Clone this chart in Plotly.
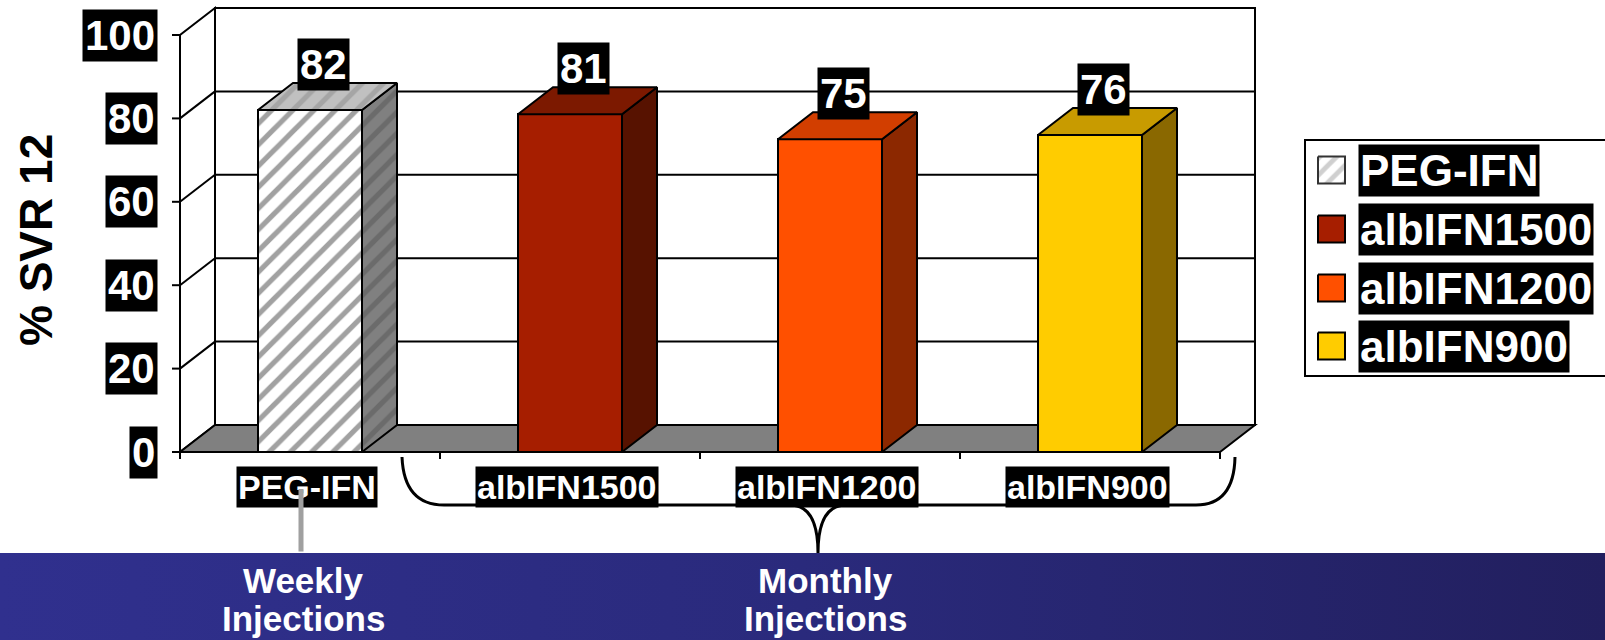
import plotly.graph_objects as go

# ---------------- data ----------------
categories = ["PEG-IFN", "albIFN1500", "albIFN1200", "albIFN900"]
svr12 = [82, 81, 75, 76]
y_ticks = [0, 20, 40, 60, 80, 100]
y_title = "% SVR 12"
weekly_text = ["Weekly", "Injections"]
monthly_text = ["Monthly", "Injections"]

front_colors = ["#FFFFFF", "#A61E00", "#FF5000", "#FFCC00"]
top_colors = ["#C0C0C0", "#7C1900", "#D23E00", "#C89B00"]
side_colors = ["#808080", "#571200", "#8C2800", "#8A6800"]

# ---------------- geometry (pixels) ----------------
W, H = 1605, 640
FONT = "Liberation Sans, Arial, sans-serif"
X_EDGE = 180      # pixel column of the front-left corner
CAT = 260         # pixels per category slot
Y_BASE = 452      # pixel row of value 0 on the front plane
UNIT = 4.17       # pixels per percentage point
DEPTH_X, DEPTH_Y = 35, 27
BAR_W = 0.4
LW = 2

DX = DEPTH_X / CAT
DY = DEPTH_Y / UNIT
x_lo = -0.5 - X_EDGE / CAT
x_hi = x_lo + W / CAT
y_lo = -(H - Y_BASE) / UNIT
y_hi = Y_BASE / UNIT
n = len(categories)
left, right = -0.5, n - 0.5
vmax = y_ticks[-1]

fig = go.Figure()
shapes = []
annotations = []


def poly(pts):
    return "M " + " L ".join(f"{x},{y}" for x, y in pts) + " Z"


# ---- walls and floor ----
shapes.append(dict(type="path", xref="x", yref="y", layer="below",
                   path=poly([(left, 0), (left + DX, DY), (left + DX, vmax + DY), (left, vmax)]),
                   fillcolor="white", line=dict(color="black", width=LW)))
shapes.append(dict(type="rect", xref="x", yref="y", layer="below",
                   x0=left + DX, y0=DY, x1=right + DX, y1=vmax + DY,
                   fillcolor="white", line=dict(color="black", width=LW)))
for v in y_ticks[1:-1]:
    shapes.append(dict(type="line", xref="x", yref="y", layer="below",
                       x0=left + DX, y0=v + DY, x1=right + DX, y1=v + DY,
                       line=dict(color="black", width=LW)))
    shapes.append(dict(type="line", xref="x", yref="y", layer="below",
                       x0=left, y0=v, x1=left + DX, y1=v + DY,
                       line=dict(color="black", width=LW)))
shapes.append(dict(type="path", xref="x", yref="y", layer="below",
                   path=poly([(left, 0), (right, 0), (right + DX, DY), (left + DX, DY)]),
                   fillcolor="#808080", line=dict(color="black", width=LW)))

# ---- front axes ----
tick_len_x = 8 / CAT
tick_len_y = 7 / UNIT
shapes.append(dict(type="line", xref="x", yref="y", x0=left, y0=0, x1=left, y1=vmax,
                   line=dict(color="black", width=LW)))
for v in y_ticks:
    shapes.append(dict(type="line", xref="x", yref="y", x0=left - tick_len_x, y0=v, x1=left, y1=v,
                       line=dict(color="black", width=LW)))
shapes.append(dict(type="line", xref="x", yref="y", x0=left - tick_len_x, y0=0, x1=right, y1=0,
                   line=dict(color="black", width=LW)))
for k in range(n + 1):
    shapes.append(dict(type="line", xref="x", yref="y", x0=left + k, y0=0, x1=left + k, y1=-tick_len_y,
                       line=dict(color="black", width=LW)))

# ---- bar front faces ----
fig.add_trace(go.Bar(
    x=list(range(n)), y=svr12, width=BAR_W,
    marker=dict(color=front_colors, line=dict(color="black", width=LW),
                pattern=dict(shape=["/", "", "", ""], fgcolor="#A0A0A0", size=15, solidity=0.35)),
    hoverinfo="skip", showlegend=False,
))

# ---- bar tops and sides ----
for i, v in enumerate(svr12):
    x0, x1 = i - BAR_W / 2, i + BAR_W / 2
    top_pts = [(x0, v), (x1, v), (x1 + DX, v + DY), (x0 + DX, v + DY), (x0, v)]
    side_pts = [(x1, 0), (x1 + DX, DY), (x1 + DX, v + DY), (x1, v), (x1, 0)]
    for pts, col, fg in ((side_pts, side_colors[i], "#555555"), (top_pts, top_colors[i], "#8A8A8A")):
        kw = {}
        if i == 0:
            kw["fillpattern"] = dict(shape="/", fgcolor=fg, bgcolor=col, size=15, solidity=0.35)
        fig.add_trace(go.Scatter(
            x=[p[0] for p in pts], y=[p[1] for p in pts], mode="lines", fill="toself",
            fillcolor=col, line=dict(color="black", width=LW), hoverinfo="skip",
            showlegend=False, **kw))

# ---- blue footer band (pixel overlay axes) ----
BAND_TOP = 553
fig.add_trace(go.Scatter(
    x=[0, W, W, 0, 0], y=[BAND_TOP, BAND_TOP, H, H, BAND_TOP], mode="lines", fill="toself",
    line=dict(width=0), fillgradient=dict(type="horizontal",
                                          colorscale=[[0, "#30308E"], [0.5, "#2A2A7C"], [1, "#221F5E"]]),
    xaxis="x2", yaxis="y2", hoverinfo="skip", showlegend=False))

# ---- legend ----
LEG_X0, LEG_Y0, LEG_Y1 = 1305, 140, 376
ROW_Y = [170, 229, 288, 346]
SW = 27
shapes.append(dict(type="rect", xref="x2", yref="y2", x0=LEG_X0, y0=LEG_Y0, x1=W + 20, y1=LEG_Y1,
                   fillcolor="white", line=dict(color="black", width=LW), layer="below"))
for i, name in enumerate(categories):
    sx0, sx1 = 1318, 1318 + SW
    sy0, sy1 = ROW_Y[i] - SW / 2, ROW_Y[i] + SW / 2
    kw = {}
    if i == 0:
        kw["fillpattern"] = dict(shape="/", fgcolor="#A0A0A0", bgcolor="white", size=12, solidity=0.4)
    fig.add_trace(go.Scatter(
        x=[sx0, sx1, sx1, sx0, sx0], y=[sy0, sy0, sy1, sy1, sy0], mode="lines", fill="toself",
        fillcolor=front_colors[i], line=dict(color="#333333" if i == 0 else "black", width=LW),
        xaxis="x2", yaxis="y2", hoverinfo="skip", showlegend=False, **kw))
    annotations.append(dict(xref="x2", yref="y2", x=1358, y=ROW_Y[i], xanchor="left", yanchor="middle",
                            text=name, showarrow=False, bgcolor="black", borderpad=1,
                            font=dict(family=FONT, size=44, color="white", weight="bold")))

# ---- value labels ----
for i, v in enumerate(svr12):
    annotations.append(dict(xref="x", yref="y", x=i + 0.05, y=v + 11, text=str(v), showarrow=False,
                            xanchor="center", yanchor="middle", bgcolor="black", borderpad=2,
                            font=dict(family=FONT, size=42, color="white", weight="bold")))

# ---- y tick labels and title ----
for v in y_ticks:
    annotations.append(dict(xref="x", yref="y", x=left - 22 / CAT, y=v, text=str(v), showarrow=False,
                            xanchor="right", yanchor="middle", bgcolor="black", borderpad=2,
                            font=dict(family=FONT, size=42, color="white", weight="bold")))
annotations.append(dict(xref="x2", yref="y2", x=36, y=240, text=y_title, showarrow=False,
                        textangle=-90, xanchor="center", yanchor="middle",
                        font=dict(family=FONT, size=46, color="black", weight="bold")))

# ---- grouping brace under the monthly categories ----
shapes.append(dict(type="path", xref="x2", yref="y2", line=dict(color="black", width=3),
                   path=("M 402,457 Q 404,505 444,505 L 790,505 Q 818,505 818,553 "
                         "Q 818,505 846,505 L 1196,505 Q 1234,505 1235,457")))

# ---- category labels ----
for i, name in enumerate(categories):
    annotations.append(dict(xref="x", yref="y2", x=i - 0.01, y=487, text=name, showarrow=False,
                            xanchor="center", yanchor="middle", bgcolor="black", borderpad=1,
                            font=dict(family=FONT, size=34, color="white", weight="bold")))

# connector from the weekly label down to the footer
annotations.append(dict(xref="x2", yref="y2", x=301, y=489, ax=0, ay=BAND_TOP - 489, text="",
                        showarrow=True, arrowhead=0, arrowwidth=5, arrowcolor="#A0A0A0",
                        standoff=0, startstandoff=0))

# ---- footer texts ----
for cx, lines in ((303, weekly_text), (825, monthly_text)):
    for j, t in enumerate(lines):
        annotations.append(dict(xref="x2", yref="y2", x=cx, y=580 + 38 * j, text=t, showarrow=False,
                                xanchor="center", yanchor="middle",
                                font=dict(family=FONT, size=35, color="white", weight="bold")))

fig.update_layout(
    width=W, height=H, margin=dict(l=0, r=0, t=0, b=0),
    paper_bgcolor="white", plot_bgcolor="white", showlegend=False,
    xaxis=dict(range=[x_lo, x_hi], visible=False, fixedrange=True, domain=[0, 1]),
    yaxis=dict(range=[y_lo, y_hi], visible=False, fixedrange=True, domain=[0, 1]),
    xaxis2=dict(range=[0, W], visible=False, fixedrange=True, overlaying="x", anchor="y2"),
    yaxis2=dict(range=[H, 0], visible=False, fixedrange=True, overlaying="y", anchor="x2"),
    shapes=shapes, annotations=annotations, bargap=0,
)

fig.write_html("out.html", config={"displayModeBar": False})
